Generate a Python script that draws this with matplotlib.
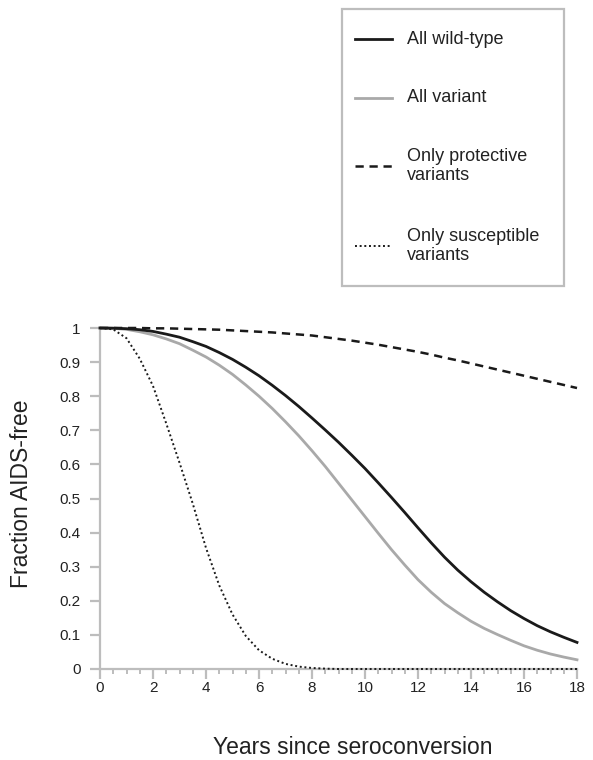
import numpy as np
import matplotlib
matplotlib.use('Agg')
import matplotlib.pyplot as plt
from matplotlib.lines import Line2D
from matplotlib.patches import Rectangle
from matplotlib.ticker import MultipleLocator

plt.rcParams['font.family'] = ['Liberation Sans', 'DejaVu Sans']

# ── data (half-year steps) ────────────────────────────────────────
years = np.arange(0, 18.5, 0.5)
wild_type = [1.0, 0.9995, 0.998, 0.995, 0.99, 0.982, 0.973, 0.960, 0.946, 0.928,
             0.908, 0.885, 0.86, 0.832, 0.802, 0.770, 0.736, 0.701, 0.665, 0.627,
             0.588, 0.546, 0.503, 0.459, 0.414, 0.370, 0.328, 0.290, 0.256, 0.225,
             0.197, 0.171, 0.148, 0.127, 0.109, 0.093, 0.078]
all_variant = [1.0, 0.999, 0.996, 0.989, 0.980, 0.968, 0.954, 0.935, 0.915, 0.891,
               0.864, 0.833, 0.800, 0.764, 0.725, 0.684, 0.640, 0.594, 0.545, 0.496,
               0.447, 0.398, 0.350, 0.305, 0.262, 0.225, 0.192, 0.165, 0.140, 0.119,
               0.101, 0.084, 0.068, 0.055, 0.044, 0.035, 0.027]
protective = [1.0, 1.0, 1.0, 1.0, 0.999, 0.999, 0.998, 0.997, 0.996, 0.995,
              0.993, 0.991, 0.989, 0.987, 0.984, 0.981, 0.978, 0.973, 0.968, 0.963,
              0.957, 0.951, 0.944, 0.937, 0.93, 0.922, 0.913, 0.905, 0.896, 0.887,
              0.878, 0.869, 0.86, 0.851, 0.842, 0.833, 0.824]
susceptible = [1.0, 0.996, 0.97, 0.91, 0.83, 0.72, 0.605, 0.485, 0.355, 0.245,
               0.16, 0.097, 0.055, 0.03, 0.015, 0.007, 0.003, 0.001] + [0.0] * 19

labels = ['All wild-type', 'All variant', 'Only protective\nvariants',
          'Only susceptible\nvariants']
y_ticks = np.round(np.arange(0, 1.01, 0.1), 1)
y_ticklabels = ['0', '0.1', '0.2', '0.3', '0.4', '0.5', '0.6', '0.7', '0.8', '0.9', '1']

AXIS_GRAY = '#bdbdbd'
TEXT = '#222222'
W, H = 593, 760


def fx(px):
    return px / W


def fy(py):
    return 1 - py / H


fig = plt.figure(figsize=(W / 100, H / 100), dpi=100)
ax = fig.add_axes([fx(100), fy(669), (577 - 100) / W, (669 - 328) / H])

styles = [
    dict(color='#1a1a1a', lw=2.0, ls='-'),
    dict(color='#a9a9a9', lw=2.0, ls='-'),
    dict(color='#1a1a1a', lw=1.8, ls=(0, (3.3, 2.3))),
    dict(color='#1a1a1a', lw=1.4, ls=(0, (1, 1.4))),
]

ax.plot(years, wild_type, clip_on=False, zorder=4, **styles[0])
ax.plot(years, all_variant, clip_on=False, zorder=3, **styles[1])
ax.plot(years, protective, clip_on=False, zorder=5, **styles[2])
ax.plot(years, susceptible, clip_on=False, zorder=5, **styles[3])

ax.set_xlim(0, 18)
ax.set_ylim(0, 1)
for s in ['top', 'right']:
    ax.spines[s].set_visible(False)
for s in ['left', 'bottom']:
    ax.spines[s].set_color(AXIS_GRAY)
    ax.spines[s].set_linewidth(1.6)

ax.xaxis.set_major_locator(MultipleLocator(2))
ax.xaxis.set_minor_locator(MultipleLocator(0.5))
ax.set_yticks(y_ticks)
ax.set_yticklabels(y_ticklabels)
ax.tick_params(axis='both', which='major', direction='out', length=7,
               width=1.6, color=AXIS_GRAY, labelsize=11, labelcolor=TEXT)
ax.tick_params(axis='x', which='minor', direction='out', length=3.5,
               width=1.4, color=AXIS_GRAY)
ax.tick_params(axis='x', which='major', pad=2)
ax.tick_params(axis='y', which='major', pad=7)

fig.text(fx(353), fy(748), 'Years since seroconversion', ha='center',
         va='center', fontsize=16.5, color=TEXT)
fig.text(fx(22), fy(494), 'Fraction AIDS-free', ha='center', va='center',
         rotation=90, fontsize=16.5, color=TEXT)

# ── legend box ────────────────────────────────────────────────────
fig.patches.append(Rectangle((fx(342), fy(286)), (564 - 342) / W, (286 - 9) / H,
                             transform=fig.transFigure, fill=False,
                             edgecolor=AXIS_GRAY, lw=1.6))
entry_y = [39, 98, 166, 246]
for lab, st, ey in zip(labels, styles, entry_y):
    fig.lines.append(Line2D([fx(355), fx(392)], [fy(ey), fy(ey)],
                            transform=fig.transFigure, **st))
    fig.text(fx(407), fy(ey), lab, ha='left', va='center', fontsize=13,
             color=TEXT, linespacing=1.2)

fig.savefig('out.png', dpi=100, facecolor='white')
